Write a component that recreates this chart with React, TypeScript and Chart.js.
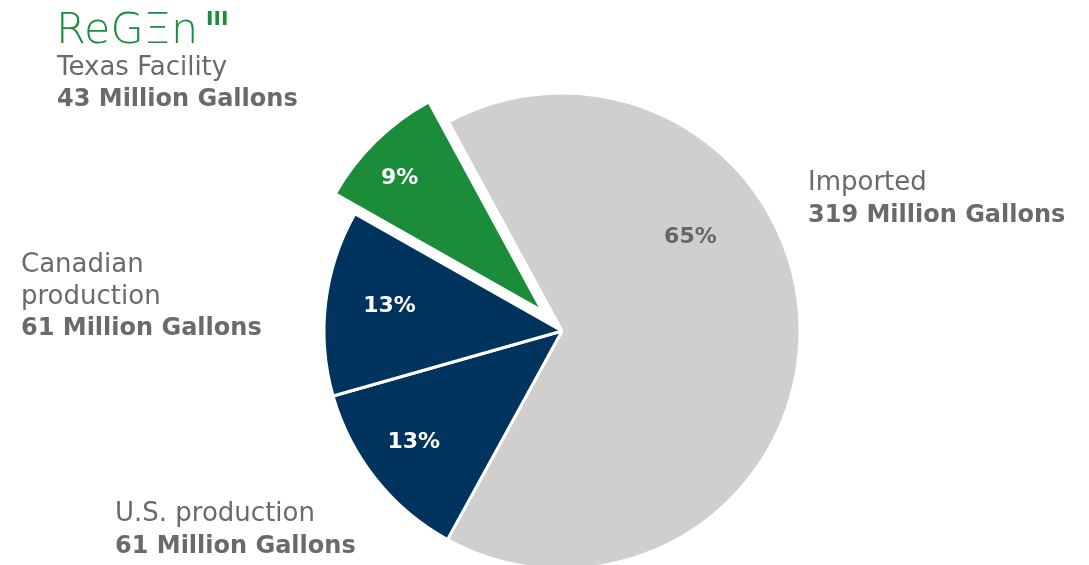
import React, { useEffect, useRef } from 'react';
import { Chart, registerables, ArcElement } from 'chart.js';

Chart.register(...registerables);

// ---- data ----
const categories = ['Imported', 'U.S. production', 'Canadian production', 'Texas Facility'];
const volumesMillionGallons = [319, 61, 61, 43];
const percentLabels = ['65%', '13%', '13%', '9%'];
const nameLines = [['Imported'], ['U.S. production'], ['Canadian', 'production'], ['Texas Facility']];
const volumeLabels = ['319 Million Gallons', '61 Million Gallons', '61 Million Gallons', '43 Million Gallons'];
const logoText = 'ReGΞn';
const logoSup = 'III';

// ---- styles / layout ----
const sliceColors = ['#cfcfcf', '#00335e', '#00335e', '#1a8c3a'];
const sliceOffsets = [0, 0, 0, 28]; // pixels the slice is pulled out along its mid-angle
const pctColors = ['#666666', '#ffffff', '#ffffff', '#ffffff'];
const pctAngleDeg = [54, 233, 278, 313];
const pctRadiusFrac = [0.667, 0.78, 0.732, 0.82];
const outerLabelPos = [
  { x: 808, y: 190 },
  { x: 115, y: 521 },
  { x: 21, y: 272 },
  { x: 57, y: 74.5 },
];
const LINE_GAP = 31.5;
const TEXT_GREY = '#6a6a6a';
const FONT = "'DejaVu Sans', 'Open Sans', sans-serif";

// Explode slices by translating the library's own arc drawing (keeps radius unchanged)
const explodePlugin = {
  id: 'explodeSlices',
  afterUpdate(chart: any) {
    const meta = chart.getDatasetMeta(0);
    meta.data.forEach((el: any, i: number) => {
      const off = sliceOffsets[i];
      if (!off) return;
      el.draw = function (ctx: CanvasRenderingContext2D, area: any) {
        const mid = (this.startAngle + this.endAngle) / 2;
        ctx.save();
        ctx.translate(Math.cos(mid) * off, Math.sin(mid) * off);
        (ArcElement.prototype as any).draw.call(this, ctx, area);
        ctx.restore();
      };
    });
  },
};

const labelPlugin = {
  id: 'sliceLabels',
  afterDatasetsDraw(chart: any) {
    const ctx = chart.ctx as CanvasRenderingContext2D;
    const meta = chart.getDatasetMeta(0);
    ctx.save();
    // percentage labels inside slices
    meta.data.forEach((arc: any, i: number) => {
      const p = arc.getProps(['x', 'y', 'startAngle', 'endAngle', 'outerRadius'], true);
      const mid = (p.startAngle + p.endAngle) / 2;
      const off = sliceOffsets[i];
      const cx = p.x + Math.cos(mid) * off;
      const cy = p.y + Math.sin(mid) * off;
      const a = ((pctAngleDeg[i] - 90) * Math.PI) / 180;
      const r = p.outerRadius * pctRadiusFrac[i];
      ctx.font = `bold 22px ${FONT}`;
      ctx.fillStyle = pctColors[i];
      ctx.textAlign = 'center';
      ctx.textBaseline = 'middle';
      ctx.fillText(percentLabels[i], cx + Math.cos(a) * r, cy + Math.sin(a) * r);
    });
    // outer category labels
    ctx.textAlign = 'left';
    ctx.textBaseline = 'alphabetic';
    nameLines.forEach((lines, i) => {
      const pos = outerLabelPos[i];
      let y = pos.y;
      ctx.fillStyle = TEXT_GREY;
      ctx.font = `normal 26px ${FONT}`;
      lines.forEach((ln) => {
        ctx.fillText(ln, pos.x, y);
        y += LINE_GAP;
      });
      ctx.font = `bold 24px ${FONT}`;
      ctx.fillText(volumeLabels[i], pos.x, y);
    });
    // logo
    ctx.fillStyle = '#1a8c3a';
    ctx.font = `200 43px ${FONT}`;
    ctx.fillText(logoText, 56, 43);
    ctx.font = `bold 20px ${FONT}`;
    ctx.fillText(logoSup, 206, 25);
    ctx.restore();
  },
};

export default function App() {
  const canvasRef = useRef<HTMLCanvasElement | null>(null);

  useEffect(() => {
    if (!canvasRef.current) return;
    const chart = new Chart(canvasRef.current, {
      type: 'pie',
      data: {
        labels: categories,
        datasets: [
          {
            data: volumesMillionGallons,
            backgroundColor: sliceColors,
            borderColor: '#ffffff',
            borderWidth: 3,
            hoverOffset: 0,
            clip: false,
          } as any,
        ],
      },
      options: {
        animation: false,
        responsive: true,
        maintainAspectRatio: false,
        events: [],
        radius: 238,
        rotation: -28.5,
        layout: { padding: { left: 35, right: 0, top: 97, bottom: 0 } },
        plugins: {
          legend: { display: false },
          tooltip: { enabled: false },
          title: { display: false },
        },
      } as any,
      plugins: [explodePlugin, labelPlugin],
    });
    return () => chart.destroy();
  }, []);

  return (
    <div style={{ position: 'fixed', left: 0, top: 0, width: 1089, height: 565, background: '#ffffff' }}>
      <canvas ref={canvasRef} />
    </div>
  );
}
